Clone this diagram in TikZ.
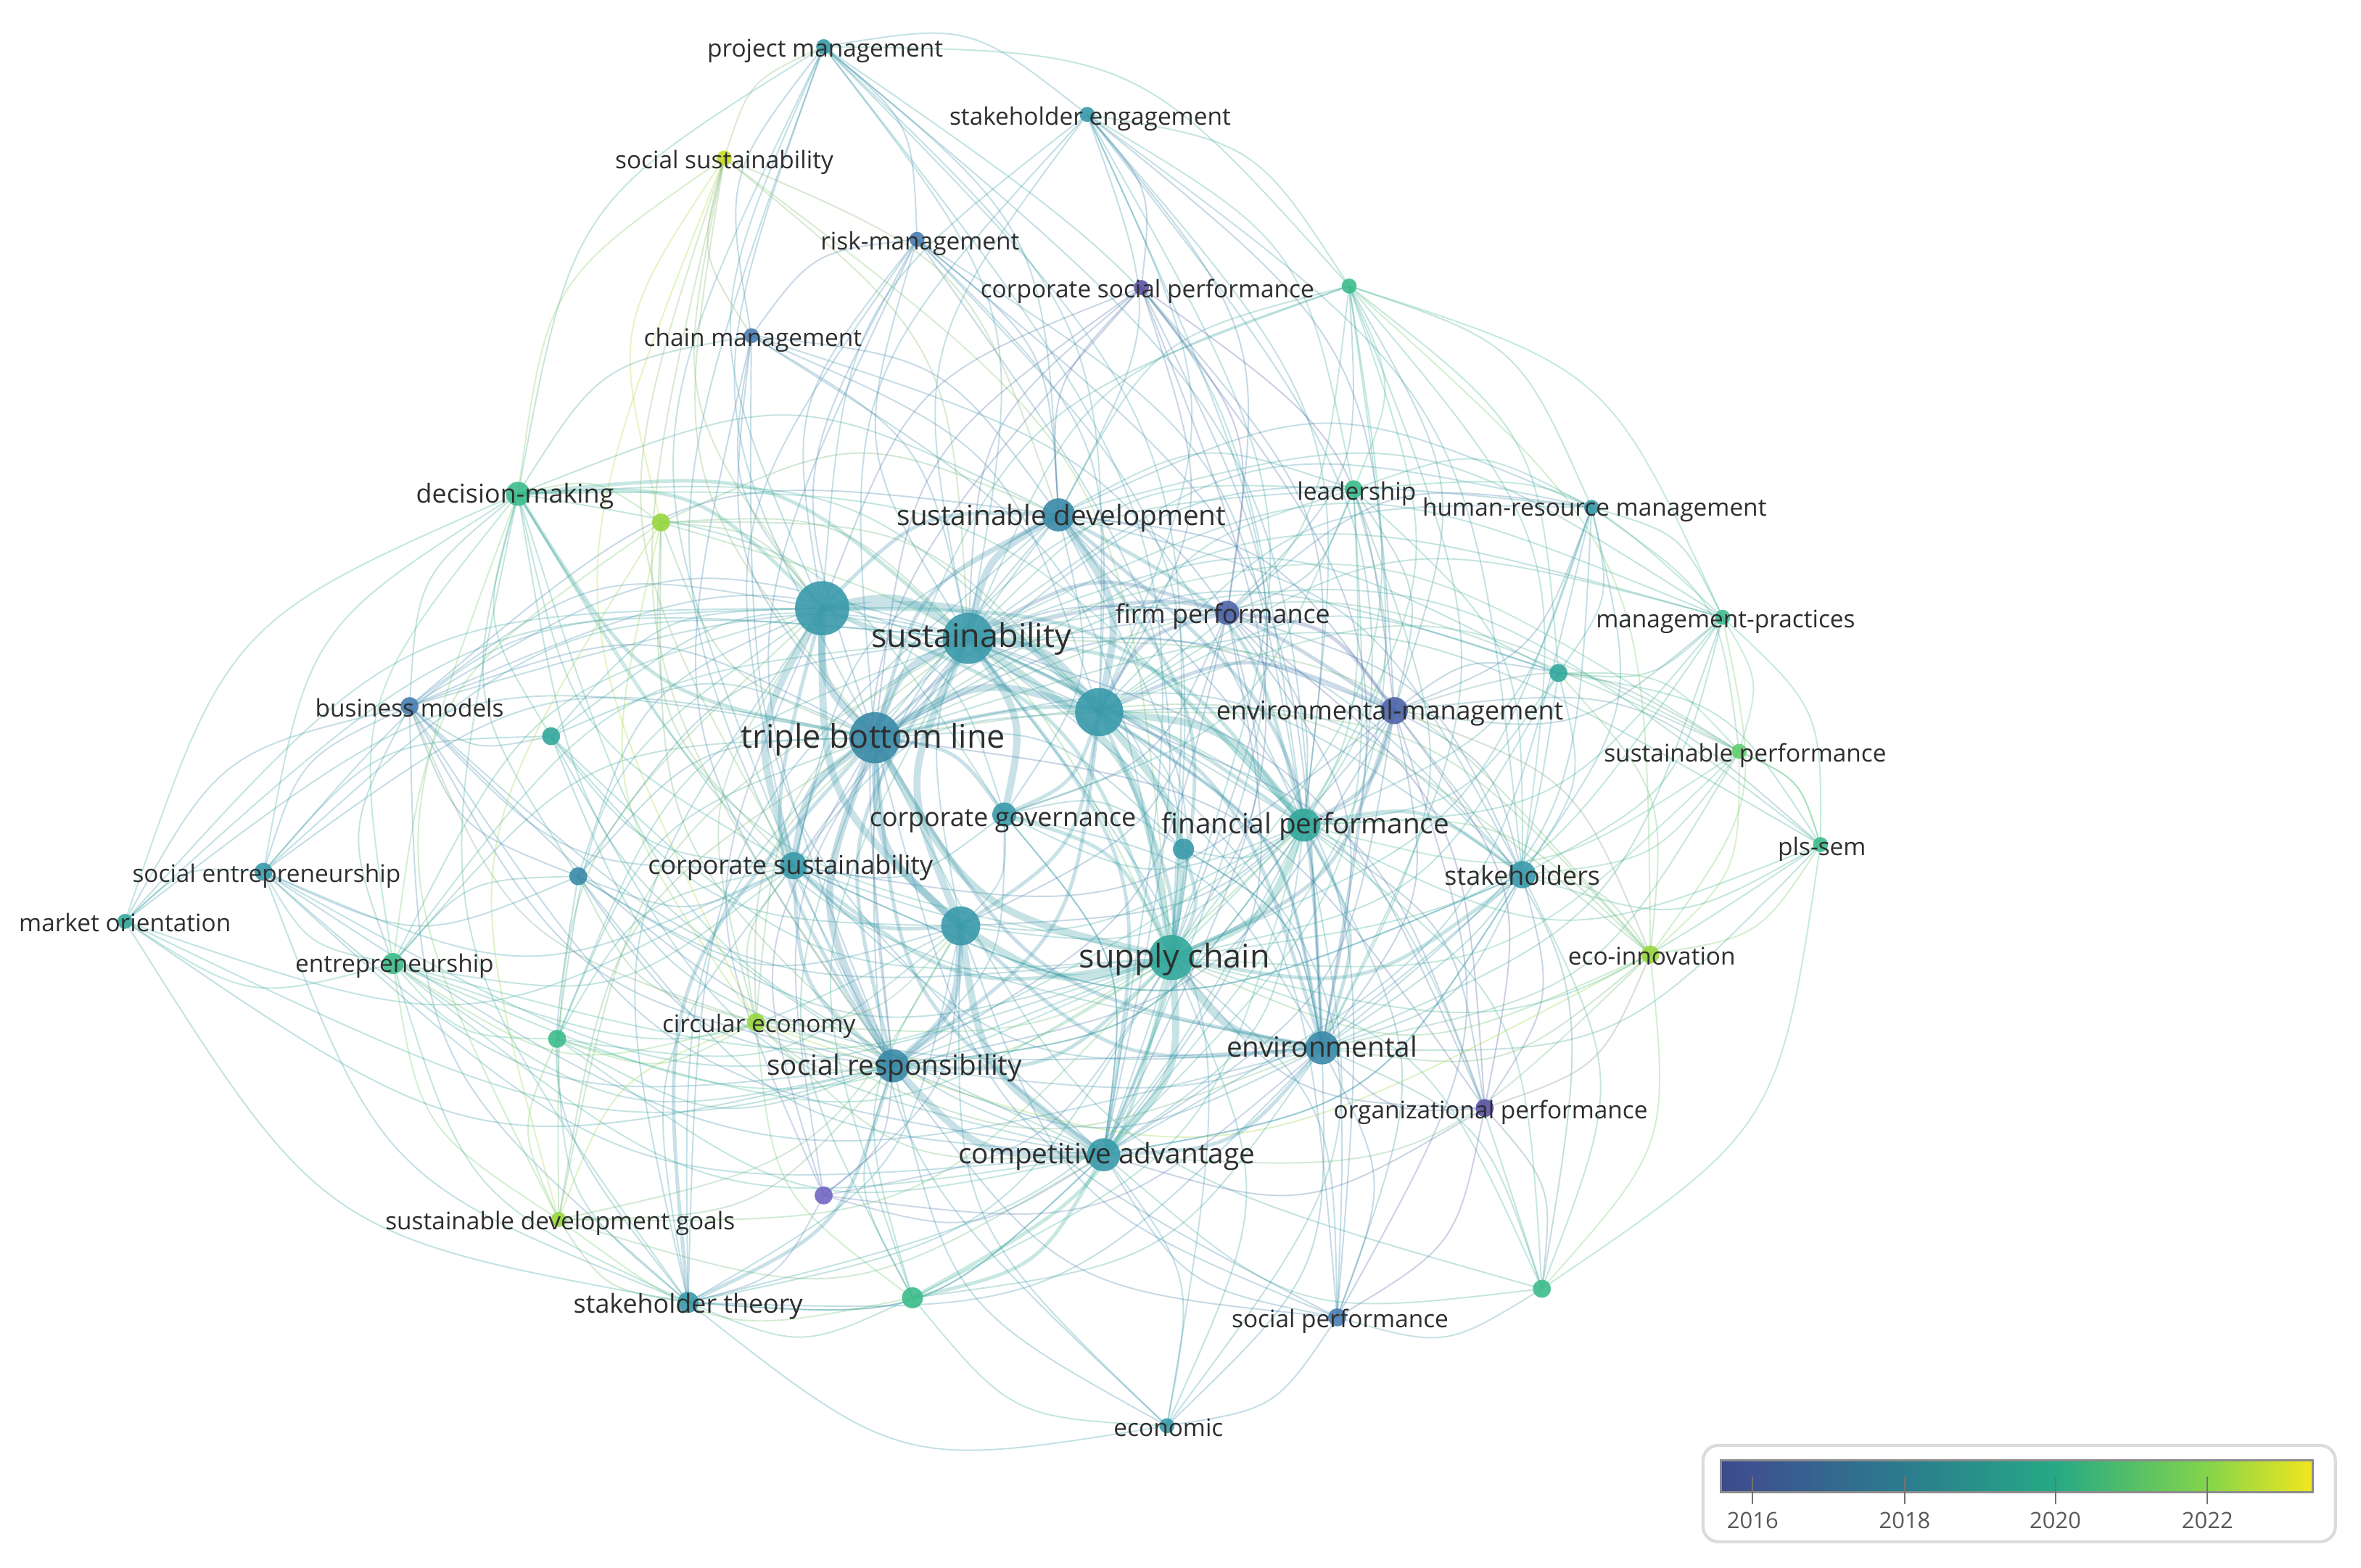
\documentclass[tikz,border=0pt]{standalone}
\usepackage{fontspec}
\setmainfont{Open Sans}
\usetikzlibrary{backgrounds,calc}
\definecolor{cPurple}{HTML}{5C53A6}
\definecolor{cLav}{HTML}{7466C4}
\definecolor{cIndigo}{HTML}{4E64AA}
\definecolor{cBlue}{HTML}{4A7EB2}
\definecolor{cTealBlue}{HTML}{3A8AA8}
\definecolor{cTeal}{HTML}{3A9AAA}
\definecolor{cTealGreen}{HTML}{33A89C}
\definecolor{cGreen}{HTML}{3DBC8C}
\definecolor{cLGreen}{HTML}{66CC70}
\definecolor{cLime}{HTML}{98D640}
\definecolor{cYellow}{HTML}{C6DC2C}
\definecolor{vA}{HTML}{3E4A8A}
\definecolor{vB}{HTML}{3D5290}
\definecolor{vC}{HTML}{2B7C8D}
\definecolor{vD}{HTML}{26A985}
\definecolor{vE}{HTML}{84D44B}
\definecolor{vF}{HTML}{F2E61E}
\newcommand\fXL{\fontsize{12.8pt}{14pt}\selectfont}
\newcommand\fL{\fontsize{11pt}{13pt}\selectfont}
\newcommand\fM{\fontsize{10.2pt}{12pt}\selectfont}
\newcommand\fS{\fontsize{9.5pt}{11pt}\selectfont}
\newcommand\fT{\fontsize{8.8pt}{10pt}\selectfont}
\newcommand\mk[5]{\colorlet{c#1}{#5}\node[dot=#4, fill=c#1] (#1) at (#2,#3) {};}
\newcommand\lb[5]{\node[lbl, font=#4] (#1-l) at (#2,#3) {#5};}
\newcommand\bendk{0.22}
\newcommand\edg[3]{\draw[#1, draw=c#2!50!c#3] let \p1=(#2.center), \p2=(#3.center), \p3=(ctr),
  \n1={sign(((\x2-\x1)/100)*(((\y1+\y2)/2-\y3)/100)-((\y2-\y1)/100)*(((\x1+\x2)/2-\x3)/100))} in
  (\p1) .. controls ({(\x1+\x2)/2-(\n1)*\bendk*(\y2-\y1)},{(\y1+\y2)/2+(\n1)*\bendk*(\x2-\x1)}) .. (\p2);}
\begin{document}
\begin{tikzpicture}[x=0.020759cm, y=-0.020759cm,
  dot/.style={circle, inner sep=0pt, draw=none, fill opacity=0.9, minimum size={2*#1*0.020759cm}},
  lbl/.style={inner sep=0pt, text=black!82, text height=0.72em, text depth=0.2em, yshift=-1.5pt},
  ethin/.style={line width=0.55pt, draw opacity=0.3},
  emid/.style={line width=1.4pt, draw opacity=0.28},
  ethick/.style={line width=2.8pt, draw opacity=0.28}]
\useasboundingbox (0,0) rectangle (1568,1041);
\coordinate (ctr) at (660,540);
% nodes
\mk{pm}{547}{31}{5}{cTeal}
\mk{se}{722}{76}{5}{cTeal}
\mk{ss}{481}{105}{5}{cYellow}
\mk{rm}{609}{159}{5}{cBlue}
\mk{csp}{758}{191}{5}{cPurple}
\mk{uA}{896}{190}{5}{cGreen}
\mk{cm}{499}{223}{5}{cBlue}
\mk{dm}{344}{328}{8}{cGreen}
\mk{uB}{439}{347}{6}{cLime}
\mk{sd}{703}{342}{11}{cTealBlue}
\mk{ld}{899}{325}{6}{cGreen}
\mk{hrm}{1057}{337}{5}{cTeal}
\mk{uC}{546}{404}{18}{cTeal}
\mk{sus}{643}{424}{17}{cTeal}
\mk{fp}{815}{407}{8}{cIndigo}
\mk{mp}{1144}{410}{5}{cGreen}
\mk{uD}{1035}{447}{6}{cTealGreen}
\mk{bm}{272}{469}{6}{cBlue}
\mk{uE}{366}{489}{6}{cTealGreen}
\mk{tbl}{581}{490}{17}{cTealBlue}
\mk{uF}{730}{473}{16}{cTeal}
\mk{em}{926}{472}{9}{cIndigo}
\mk{sp}{1155}{499}{5}{cLGreen}
\mk{cg}{667}{541}{8}{cTeal}
\mk{finp}{866}{548}{11}{cTealGreen}
\mk{uG}{786}{564}{7}{cTeal}
\mk{pls}{1209}{561}{5}{cGreen}
\mk{sent}{175}{579}{6}{cTeal}
\mk{uH}{384}{582}{6}{cTealBlue}
\mk{cs}{527}{575}{9}{cTeal}
\mk{sh}{1011}{581}{9}{cTeal}
\mk{mo}{83}{612}{5}{cTealGreen}
\mk{ent}{261}{640}{7}{cGreen}
\mk{uI}{638}{615}{13}{cTeal}
\mk{sc}{778}{636}{15}{cTealGreen}
\mk{eco}{1096}{634}{6}{cLime}
\mk{uJ}{370}{690}{6}{cGreen}
\mk{ce}{502}{679}{6}{cLime}
\mk{sr}{593}{708}{11}{cTealBlue}
\mk{env}{878}{696}{11}{cTealBlue}
\mk{op}{986}{736}{6}{cPurple}
\mk{ca}{733}{767}{11}{cTeal}
\mk{uK}{547}{794}{6}{cLav}
\mk{sdg}{371}{810}{5}{cLime}
\mk{st}{457}{865}{7}{cTeal}
\mk{uL}{606}{862}{7}{cGreen}
\mk{uM}{1024}{856}{6}{cGreen}
\mk{soc}{888}{875}{6}{cBlue}
\mk{econ}{775}{947}{5}{cTeal}
% labels
\lb{pm}{548}{31}{\fS}{project management}
\lb{se}{724}{76}{\fS}{stakeholder engagement}
\lb{ss}{481}{105}{\fS}{social sustainability}
\lb{rm}{611}{159}{\fS}{risk-management}
\lb{csp}{762}{191}{\fS}{corporate social performance}
\lb{cm}{500}{223}{\fS}{chain management}
\lb{dm}{342}{327}{\fM}{decision-making}
\lb{sd}{705}{342}{\fL}{sustainable development}
\lb{ld}{901}{325}{\fS}{leadership}
\lb{hrm}{1059}{336}{\fS}{human-resource management}
\lb{sus}{645}{423}{\fXL}{sustainability}
\lb{fp}{812}{407}{\fM}{firm performance}
\lb{mp}{1146}{410}{\fS}{management-practices}
\lb{bm}{272}{469}{\fS}{business models}
\lb{tbl}{580}{490}{\fXL}{triple bottom line}
\lb{em}{923}{471}{\fM}{environmental-management}
\lb{sp}{1159}{499}{\fS}{sustainable performance}
\lb{cg}{666}{542}{\fM}{corporate governance}
\lb{finp}{867}{547}{\fL}{financial performance}
\lb{pls}{1210}{561}{\fS}{pls-sem}
\lb{sent}{177}{579}{\fS}{social entrepreneurship}
\lb{cs}{525}{574}{\fM}{corporate sustainability}
\lb{sh}{1011}{581}{\fM}{stakeholders}
\lb{mo}{83}{612}{\fS}{market orientation}
\lb{ent}{262}{639}{\fS}{entrepreneurship}
\lb{sc}{780}{636}{\fXL}{supply chain}
\lb{eco}{1097}{634}{\fS}{eco-innovation}
\lb{ce}{504}{679}{\fS}{circular economy}
\lb{sr}{594}{707}{\fL}{social responsibility}
\lb{env}{878}{695}{\fL}{environmental}
\lb{op}{990}{736}{\fS}{organizational performance}
\lb{ca}{735}{766}{\fL}{competitive advantage}
\lb{sdg}{372}{810}{\fS}{sustainable development goals}
\lb{st}{457}{865}{\fM}{stakeholder theory}
\lb{soc}{890}{875}{\fS}{social performance}
\lb{econ}{776}{947}{\fS}{economic}
% edges
\begin{pgfonlayer}{background}
\fill[white] (0,0) rectangle (1568,1041);
\foreach \a/\b in {pm/uC, pm/sus, pm/tbl, pm/sd, pm/sc, pm/cm, pm/rm, pm/ss, pm/se, pm/uF, pm/sr, pm/ca, pm/dm, pm/uA,
se/sd, se/sus, se/uF, se/csp, se/uA, se/ld, se/tbl, se/uC, se/sc, se/fp, se/finp,
ss/cm, ss/uB, ss/tbl, ss/sus, ss/uC, ss/ce, ss/sc, ss/dm,
rm/tbl, rm/sus, rm/uC, rm/sc, rm/uF, rm/cm, rm/sd, rm/sr, rm/ca, rm/finp,
csp/fp, csp/uF, csp/sus, csp/em, csp/finp, csp/sc, csp/env, csp/sd, csp/tbl,
uA/ld, uA/sd, uA/sus, uA/uF, uA/fp, uA/em, uA/sh, uA/finp, uA/hrm, uA/tbl, uA/uD, uA/mp,
cm/tbl, cm/sus, cm/uC, cm/sc, cm/sd, cm/dm,
dm/sd, dm/bm, dm/uE, dm/sent, dm/ent, dm/cs, dm/sc, dm/uB, dm/sr, dm/uH, dm/st, dm/sdg, dm/mo, dm/uF,
uB/uC, uB/tbl, uB/sus, uB/ce, uB/cs, uB/sd, uB/sc,
ld/sd, ld/uF, ld/sus, ld/finp, ld/em, ld/fp, ld/sh, ld/hrm, ld/tbl, ld/sc, ld/mp,
hrm/em, hrm/sus, hrm/uF, hrm/finp, hrm/sh, hrm/mp, hrm/sp, hrm/uD, hrm/fp, hrm/sc, hrm/tbl,
fp/tbl, fp/finp, fp/sc, fp/env, fp/sd, fp/cg, fp/sh, fp/op, fp/ca,
mp/em, mp/sh, mp/finp, mp/sp, mp/pls, mp/uD, mp/eco, mp/uF, mp/sus, mp/sc,
uD/em, uD/finp, uD/sh, uD/sp, uD/pls, uD/sc, uD/uF, uD/eco,
bm/uC, bm/tbl, bm/sus, bm/sent, bm/mo, bm/ent, bm/cs, bm/uE, bm/sr, bm/uH, bm/st, bm/uF, bm/sc, bm/ce,
uE/tbl, uE/uC, uE/sus, uE/cs, uE/sent, uE/uI,
em/tbl, em/env, em/sh, em/op, em/ca, em/sp, em/eco, em/sr, em/uI,
sp/sh, sp/finp, sp/pls, sp/eco, sp/sc, sp/env,
cg/uI, cg/finp, cg/cs, cg/sr, cg/uC, cg/uG, cg/ca,
finp/uG, finp/ca, finp/uI, finp/op, finp/sr, finp/uM,
uG/uF, uG/tbl, uG/sus, uG/env,
pls/sh, pls/sp, pls/eco, pls/uM, pls/em, pls/finp,
sent/mo, sent/ent, sent/uC, sent/tbl, sent/sus, sent/cs, sent/uH, sent/sr, sent/st,
uH/tbl, uH/cs, uH/uC, uH/ent, uH/sr, uH/uI, uH/ce, uH/sus,
cs/sus, cs/ce, cs/ent, cs/st, cs/uF,
sh/env, sh/uF, sh/sus, sh/tbl, sh/eco, sh/op, sh/uM, sh/ca, sh/cs,
mo/ent, mo/tbl, mo/uC, mo/cs,
ent/tbl, ent/uC, ent/sus, ent/uJ, ent/sdg, ent/st, ent/ce, ent/sr, ent/sc,
eco/finp, eco/sc, eco/env, eco/uM, eco/ce, eco/op,
uJ/sdg, uJ/ce, uJ/tbl, uJ/sus, uJ/uC, uJ/sr, uJ/cs, uJ/st,
ce/tbl, ce/sus, ce/uC, ce/sc, ce/uI, ce/sr, ce/sdg, ce/uL,
sr/uL, sr/env, sr/uK, sr/sdg,
env/soc, env/econ, env/uM, env/op,
op/sc, op/uM, op/soc, op/ca,
ca/econ, ca/st, ca/soc,
uK/tbl, uK/uI, uK/ca, uK/st, uK/uC, uK/sc,
sdg/st, sdg/tbl, sdg/uL, sdg/sus,
st/uC, st/sus, st/uI, st/sc, st/ca, st/uL, st/econ,
uL/tbl, uL/uI, uL/econ,
uM/sc, uM/soc, uM/em,
soc/sc, soc/finp, soc/em, soc/econ, soc/sr, soc/tbl, soc/sus,
econ/sc, econ/sr, econ/tbl,
sd/ca, sd/sr, sd/cs, sd/em, sd/sh, sd/uI, sd/cg, sd/hrm, sd/mp,
cs/finp, cs/env, cs/ca, cs/sh, cs/em,
sr/finp, sr/sh, env/uF, env/cg, env/uG, ca/cg, ca/sh,
bm/finp, bm/env, bm/ca, bm/sd,
dm/finp, dm/env, dm/ca, dm/cg,
sent/sc, sent/ca, sent/env,
mo/sc, mo/sr, mo/st, mo/sus,
ent/ca, ent/finp, ent/uI,
uE/sc, uE/sr, uE/ca,
uH/sc, uH/ca, uH/st,
uJ/sc, uJ/ca, uJ/uI,
ce/ca, ce/env, ce/finp,
st/env, st/finp, st/sd,
uL/env, uL/finp, uL/sus,
econ/finp, econ/uI, econ/sus,
soc/uI, soc/sd, soc/uF,
uM/ca, uM/sus, uM/tbl,
op/tbl, op/sus, op/uF,
eco/tbl, eco/sus, eco/uF, eco/ca,
pls/sc, pls/sus, pls/tbl, pls/env,
sp/sus, sp/tbl, sp/uF,
mp/tbl, mp/env,
uD/sus, uD/tbl, uD/env,
hrm/env, hrm/ca,
ld/env, ld/ca, ld/cg,
fp/uI, fp/sr, fp/cs,
csp/ca, csp/sr, csp/uC,
rm/env, rm/cs,
cm/sr, cm/ca, cm/finp, cm/uF,
ss/sd, ss/sr, ss/cs,
se/env, se/ca, se/sh, se/em,
pm/env, pm/finp, pm/cs,
uA/sc, uA/env, uA/ca, uA/eco,
uB/sr, uB/uF, uB/ent, uB/sdg,
uK/sus, uK/env,
sdg/sc, sdg/ca, sdg/uC, sdg/uI}
  {\edg{ethin}{\a}{\b}}
\foreach \a/\b in {sd/uC, sd/tbl, sd/sc, sc/sr, uF/em, tbl/cg, cg/sc, env/ca, finp/env, uF/env, sus/finp, tbl/ca, uC/sr, sus/env, uF/uI, uF/cg, sc/sh, finp/sh, em/fp, uF/fp, sus/fp, dm/uC, dm/tbl, uI/cs, sr/cs, sc/uG, uF/ca, uC/sc, tbl/env, sus/sr, tbl/st, sr/st, uI/env, uF/sr, em/finp, em/sc, sus/em, tbl/finp, uC/finp, sus/ca, sc/uL, ca/uL, dm/sus, sd/finp, sd/env, cs/sc}
  {\edg{emid}{\a}{\b}}
\foreach \a/\b in {uC/sus, uC/tbl, sus/tbl, sus/uF, tbl/uF, tbl/uI, sus/uI, uF/sc, tbl/sc, sus/sc, uI/sc, uC/uF, uC/uI, sd/sus, sd/uF, tbl/sr, uI/sr, sc/env, sc/ca, sc/finp, uF/finp, tbl/cs, uC/cs, sus/cg, uI/ca, sr/ca}
  {\edg{ethick}{\a}{\b}}
\end{pgfonlayer}
% legend
\draw[black!14, line width=1.2pt, rounded corners=6pt] (1131,960) rectangle (1551,1024);
\shade[left color=vA, right color=vB] (1143,970) rectangle (1164,991);
\shade[left color=vB, right color=vC] (1164,970) rectangle (1265,991);
\shade[left color=vC, right color=vD] (1265,970) rectangle (1365,991);
\shade[left color=vD, right color=vE] (1365,970) rectangle (1466,991);
\shade[left color=vE, right color=vF] (1466,970) rectangle (1536,991);
\draw[black!45, line width=0.8pt] (1143,970) rectangle (1536,991);
\foreach \x/\t in {1164/2016,1265/2018,1365/2020,1466/2022}{
  \draw[black!55, line width=0.6pt] (\x,981) -- (\x,999);
  \node[font=\fT, text=black!65, inner sep=0pt] (yr\t) at (\x,1010) {\t};
}
\end{tikzpicture}
\end{document}
